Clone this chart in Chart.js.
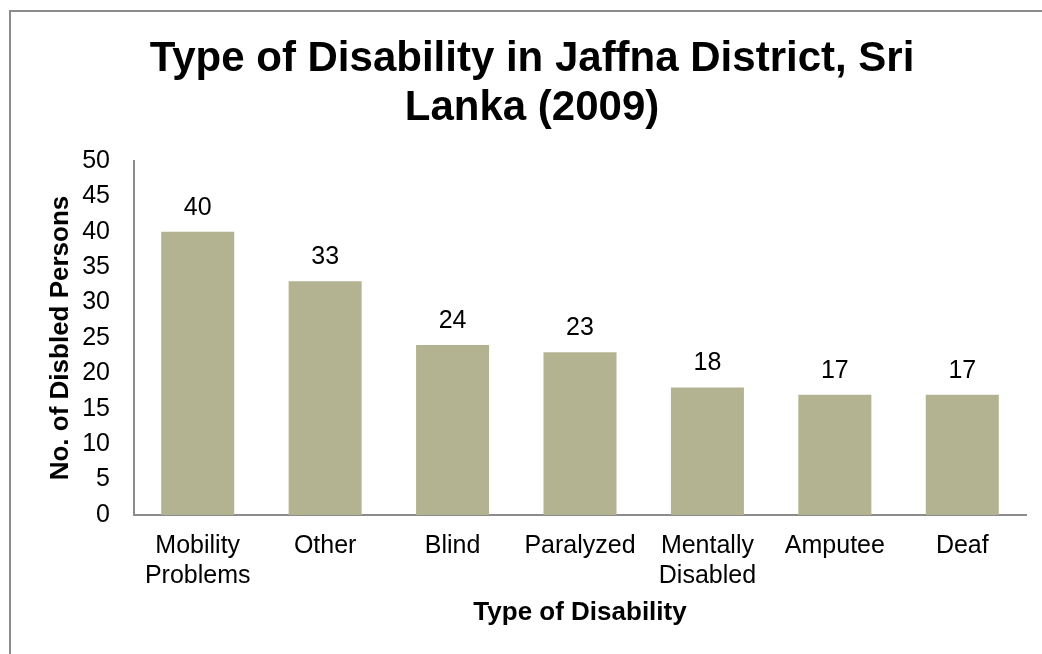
<!DOCTYPE html>
<html>
<head>
<meta charset="utf-8">
<script src="https://cdn.jsdelivr.net/npm/chart.js@4/dist/chart.umd.min.js"></script>
<style>
  html, body { margin: 0; padding: 0; background: #ffffff; }
  #wrap { position: relative; width: 1042px; height: 654px; }
  #frame { position: absolute; left: 9px; top: 10px; right: -4px; bottom: -4px; border: 2px solid #8c8c8c; box-sizing: border-box; }
  #myChart { position: absolute; left: 0; top: 0; }
</style>
</head>
<body>
<div id="wrap">
  <div id="frame"></div>
  <canvas id="myChart" width="1042" height="654"></canvas>
</div>
<script>
// Data
var categories = [["Mobility", "Problems"], "Other", "Blind", "Paralyzed", ["Mentally", "Disabled"], "Amputee", "Deaf"];
var disabledCounts = [40, 33, 24, 23, 18, 17, 17];
var titleLines = ["Type of Disability in Jaffna District, Sri", "Lanka (2009)"];
var yTicks = [0, 5, 10, 15, 20, 25, 30, 35, 40, 45, 50];

var fontFamily = "'Liberation Sans', Arial, sans-serif";

// Draws the two-line title at the top of the canvas
var titlePlugin = {
    id: 'bigTitle',
    afterDraw: function(chart) {
        var ctx = chart.ctx;
        ctx.save();
        ctx.fillStyle = '#000000';
        ctx.font = 'bold 42px ' + fontFamily;
        ctx.textAlign = 'center';
        ctx.textBaseline = 'alphabetic';
        for (var i = 0; i < titleLines.length; i++) {
            ctx.fillText(titleLines[i], 532, 71 + i * 49);
        }
        ctx.restore();
    }
};

// Writes the value above each bar
var valueLabelPlugin = {
    id: 'valueLabels',
    afterDatasetsDraw: function(chart) {
        var ctx = chart.ctx;
        var meta = chart.getDatasetMeta(0);
        ctx.save();
        ctx.fillStyle = '#000000';
        ctx.font = '25px ' + fontFamily;
        ctx.textAlign = 'center';
        ctx.textBaseline = 'middle';
        meta.data.forEach(function(bar, i) {
            ctx.fillText(String(disabledCounts[i]), bar.x, bar.y - 24);
        });
        ctx.restore();
    }
};

var ctx = document.getElementById('myChart').getContext('2d');
var chart = new Chart(ctx, {
    type: 'bar',
    data: {
        labels: categories,
        datasets: [
            {
                label: 'No. of Disbled Persons',
                data: disabledCounts,
                backgroundColor: '#b3b391',
                borderWidth: 0,
                barPercentage: 0.573,
                categoryPercentage: 1.0
            }
        ]
    },
    options: {
        responsive: false,
        animation: false,
        layout: {
            padding: { top: 161, left: 20, right: 16, bottom: 0 }
        },
        plugins: {
            legend: { display: false },
            title: { display: false },
            tooltip: { enabled: false }
        },
        scales: {
            x: {
                grid: { display: false, drawTicks: false },
                border: { display: true, color: '#8c8c8c', width: 2 },
                ticks: {
                    color: '#000000',
                    font: { family: fontFamily, size: 25, lineHeight: 1.2 },
                    padding: 16,
                    maxRotation: 0,
                    autoSkip: false
                },
                title: {
                    display: true,
                    text: 'Type of Disability',
                    color: '#000000',
                    font: { family: fontFamily, size: 26, weight: 'bold', lineHeight: 1.2 },
                    padding: { top: 0, bottom: 26 }
                },
                afterFit: function(scale) { scale.height = 139; }
            },
            y: {
                min: 0,
                max: 50,
                grid: { display: false, drawTicks: false },
                border: { display: true, color: '#8c8c8c', width: 2 },
                afterBuildTicks: function(scale) {
                    scale.ticks = yTicks.map(function(v) { return { value: v }; });
                },
                ticks: {
                    color: '#000000',
                    font: { family: fontFamily, size: 25 },
                    padding: 24
                },
                title: {
                    display: true,
                    text: 'No. of Disbled Persons',
                    color: '#000000',
                    font: { family: fontFamily, size: 26, weight: 'bold', lineHeight: 1.2 },
                    padding: { top: 25, bottom: 0 }
                },
                afterFit: function(scale) { scale.width = 114; }
            }
        }
    },
    plugins: [titlePlugin, valueLabelPlugin]
});
</script>
</body>
</html>
